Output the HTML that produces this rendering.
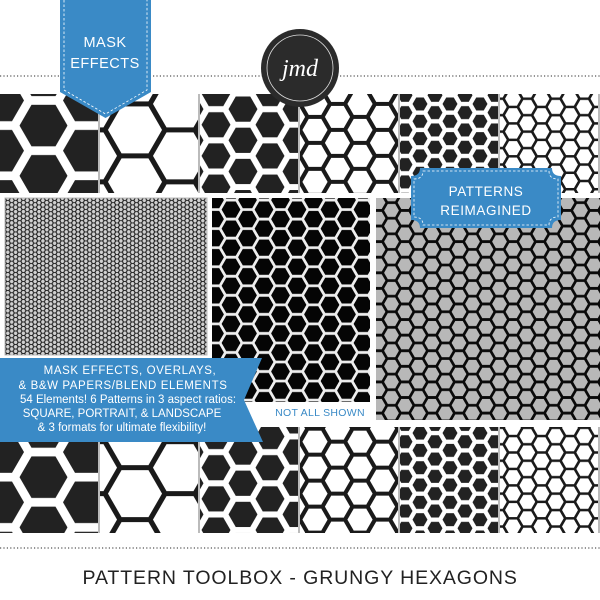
<!DOCTYPE html>
<html><head><meta charset="utf-8">
<style>
html,body{margin:0;padding:0;background:#fff;}
body{width:600px;height:600px;overflow:hidden;position:relative;font-family:"Liberation Sans",sans-serif;}
svg{position:absolute;left:0;top:0;}
</style></head>
<body>
<svg id="s" width="600" height="600" viewBox="0 0 600 600" xmlns="http://www.w3.org/2000/svg">
<defs id="d"></defs>
<g id="g"></g>
<line x1="0" y1="76" x2="600" y2="76" stroke="#555" stroke-width="1.2" stroke-dasharray="1.2 2.2"/>
<line x1="0" y1="548" x2="600" y2="548" stroke="#555" stroke-width="1.2" stroke-dasharray="1.2 2.2"/>
<path d="M60 0 H151 V92 L105.5 118 L60 92 Z" fill="#3a8ac6"/>
<path d="M64 0 V90 L105.5 114 L147 90 V0" fill="none" stroke="#fff" stroke-width="0.8" stroke-dasharray="2.5 2"/>
<text x="105" y="47" fill="#fff" font-size="14.5" text-anchor="middle" letter-spacing="0.5">MASK</text>
<text x="105" y="68" fill="#fff" font-size="14.5" text-anchor="middle" letter-spacing="0.5">EFFECTS</text>
<circle cx="300" cy="68" r="39" fill="#2b2b2b"/>
<circle cx="300" cy="68" r="33" fill="none" stroke="#ddd" stroke-width="0.8"/>
<text x="300" y="76" fill="#fff" font-size="24" font-style="italic" text-anchor="middle" font-family="Liberation Serif, serif">jmd</text>
<path d="M420 168 H552 Q552 176 561 176 V220 Q552 220 552 228 H420 Q420 220 411 220 V176 Q420 176 420 168 Z" fill="#3a8ac6"/>
<path d="M423 171 H549 Q549 179 558 179 V217 Q549 217 549 225 H423 Q423 217 414 217 V179 Q423 179 423 171 Z" fill="none" stroke="#fff" stroke-width="0.8" stroke-dasharray="2.5 2"/>
<text x="486" y="196" fill="#fff" font-size="13.5" text-anchor="middle" letter-spacing="0.6">PATTERNS</text>
<text x="486" y="215" fill="#fff" font-size="13.5" text-anchor="middle" letter-spacing="0.6">REIMAGINED</text>
<path d="M0 358 H262 L244 400 L263 442 H0 Z" fill="#3a8ac6"/>
<g fill="#fff" font-size="11.5" text-anchor="middle">
<text x="130" y="374" letter-spacing="0.6">MASK EFFECTS, OVERLAYS,</text>
<text x="123" y="389" letter-spacing="0.6">&amp; B&amp;W PAPERS/BLEND ELEMENTS</text>
<text x="128" y="403">54 Elements! 6 Patterns in 3 aspect ratios:</text>
<text x="122" y="417">SQUARE, PORTRAIT, &amp; LANDSCAPE</text>
<text x="122" y="431">&amp; 3 formats for ultimate flexibility!</text>
</g>
<text x="320" y="416" fill="#3a8ac6" font-size="10.5" text-anchor="middle" letter-spacing="0.3">NOT ALL SHOWN</text>
<text x="300" y="584" fill="#222" font-size="19.5" text-anchor="middle" letter-spacing="0.6" textLength="435">PATTERN TOOLBOX - GRUNGY HEXAGONS</text>
</svg>
<script>
var NS="http://www.w3.org/2000/svg";
var d=document.getElementById('d'),g=document.getElementById('g');
function hex(cx,cy,r){var p=[];for(var i=0;i<6;i++){var a=Math.PI/3*i;p.push((cx+r*Math.cos(a)).toFixed(2)+','+(cy+r*Math.sin(a)).toFixed(2));}return p.join(' ');}
var n=0;
function pat(r,type,sw,bg,fg){
  var id='p'+(n++),h=Math.sqrt(3)*r,w=3*r;
  var P=document.createElementNS(NS,'pattern');
  P.setAttribute('id',id);P.setAttribute('patternUnits','userSpaceOnUse');
  P.setAttribute('width',w);P.setAttribute('height',h);
  var s='<rect width="'+w+'" height="'+h+'" fill="'+bg+'"/>';
  var C=[[0,0],[0,h],[1.5*r,h/2],[3*r,0],[3*r,h]];
  C.forEach(function(c){
    if(type=='fill') s+='<polygon points="'+hex(c[0],c[1],r-sw)+'" fill="'+fg+'"/>';
    else s+='<polygon points="'+hex(c[0],c[1],r)+'" fill="none" stroke="'+fg+'" stroke-width="'+sw+'"/>';
  });
  P.innerHTML=s;d.appendChild(P);return 'url(#'+id+')';
}
function rect(x,y,w,h,f,extra){var R=document.createElementNS(NS,'rect');R.setAttribute('x',x);R.setAttribute('y',y);R.setAttribute('width',w);R.setAttribute('height',h);R.setAttribute('fill',f);if(extra)for(var k in extra)R.setAttribute(k,extra[k]);g.appendChild(R);}
var tops=[pat(29,'fill',5,'#fff','#222'),pat(30,'stroke',5,'#fff','#1a1a1a'),pat(18,'fill',3.5,'#fff','#222'),pat(15,'stroke',4,'#fff','#1a1a1a'),pat(10,'fill',2.5,'#fff','#222'),pat(9.5,'stroke',2.5,'#fff','#1a1a1a')];
for(var i=0;i<6;i++){rect(i*100,94,100,99,tops[i]);rect(i*100,427,100,106,tops[i]);rect(i*100+98,94,2,99,'#bbb');rect(i*100+98,427,2,106,'#bbb');}
rect(5,198,202,157,pat(2.6,'stroke',1,'#d0d0d0','#222'),{stroke:'#bbb','stroke-width':1});
rect(212,198,158,204,pat(11,'stroke',2.6,'#050505','#eee'));
rect(376,198,224,222,pat(9,'stroke',2.6,'#b8b8b8','#0a0a0a'));
</script>
</body></html>
